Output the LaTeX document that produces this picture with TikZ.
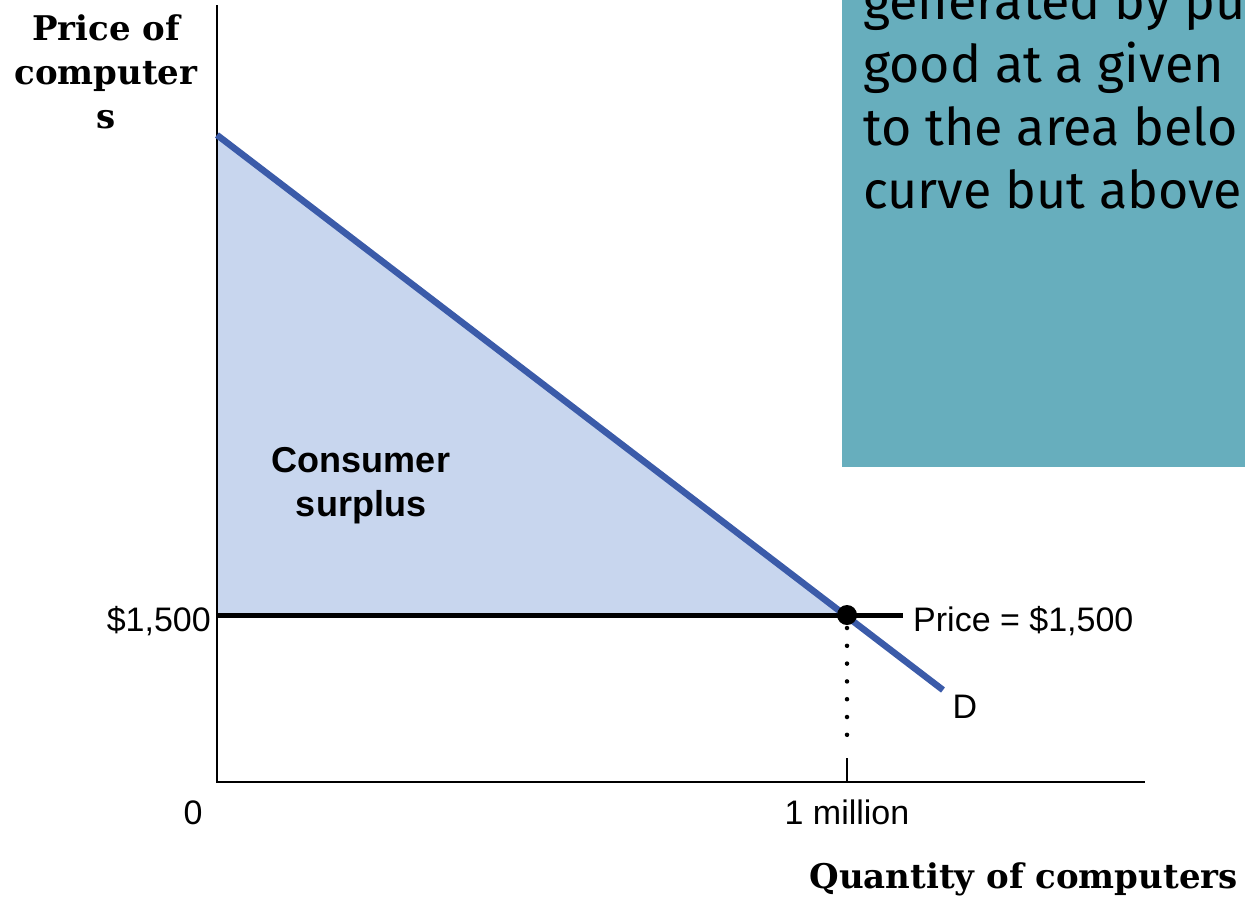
\documentclass[tikz,border=0pt]{standalone}
\usepackage{fontspec}
\setmainfont{Liberation Sans}
\newfontfamily\titlefont{DejaVu Serif}
\newfontfamily\notefont{Fira Sans}
\usetikzlibrary{positioning}
\definecolor{demandblue}{RGB}{59,91,169}
\definecolor{surplusblue}{RGB}{200,214,238}
\definecolor{noteteal}{RGB}{103,174,189}
\tikzset{
    axis/.style={
           draw=black,
           line width=2pt,
           },
    demand/.style={
           draw=demandblue,
           line width=6.5pt,
           },
    priceline/.style={
           draw=black,
           line width=5pt,
           },
    eqdot/.style={
           circle,
           fill=black,
           inner sep=0pt,
           minimum size=20pt,
           },
    droplne/.style={
           draw=black,
           line width=4.5pt,
           line cap=round,
           dash pattern=on 0pt off 17.8pt,
           shorten <=13pt,
           shorten >=13pt,
           },
    lbl/.style={
           font=\fontsize{34}{40}\selectfont,
           inner sep=0pt,
           },
    axistitle/.style={
           font=\titlefont\bfseries\fontsize{34}{44}\selectfont,
           inner sep=0pt,
           align=center,
           },
}

\begin{document}
\begin{tikzpicture}[x=1pt,y=-1pt]
\useasboundingbox (0,0) rectangle (1245,898);
% Key points of the graph
\coordinate (ORIGIN) at (217,782);
\coordinate (YTOP) at (217,5);
\coordinate (XEND) at (1145,782);
\coordinate (DTOP) at (217,135);
\coordinate (DEND) at (943,690);
\coordinate (PSTART) at (217,615);
\coordinate (PEND) at (903,615);
\coordinate (QTICK) at (847,758);
\coordinate (QAXIS) at (847,782);
% Consumer surplus triangle
\fill[surplusblue] (DTOP) -- (847,615) -- (PSTART) -- cycle;
% Axes
\draw[axis] (YTOP) -- (ORIGIN) -- (XEND);
\draw[axis] (QTICK) -- (QAXIS);
% Price line and demand curve
\draw[priceline] (PSTART) -- (PEND);
\draw[demand] (DTOP) -- (DEND);
% Equilibrium point (EQ)
\node[eqdot] (EQ) at (847,615) {};
\draw[droplne] (EQ.center) -- (QTICK);
% Labels
\node[lbl, anchor=base east] (P1500) at (211,631) {\$1,500};
\node[lbl, anchor=base west] (PRICE) at (913,631) {Price = \$1,500};
\node[lbl, anchor=base] (ZERO) at (193,824) {0};
\node[lbl, anchor=base] (QMILL) at (847,824) {1 million};
\node[lbl, anchor=base] (DLBL) at (965,718) {D};
\node[lbl, anchor=base, align=center,
font=\bfseries\fontsize{36}{44}\selectfont] (CS) at (361,516)
{Consumer\\surplus};
% Axis titles
\node[axistitle, anchor=base] (YTITLE) at (106,128) {Price of\\computer\\s};
\node[axistitle, anchor=base east] (XTITLE) at (1238,888) {Quantity of computers};
% Note box (NOTE), cut at the edge
\fill[noteteal] (842,0) rectangle (1245,467);
\begin{scope}
\clip (842,0) rectangle (1245,467);
\node[anchor=base west, inner sep=0pt, align=left,
font=\notefont\fontsize{52}{63}\selectfont] (NOTE) at (863,208)
{generated by pu\\good at a given\\to the area belo\\curve but above};
\end{scope}
\end{tikzpicture}
\end{document}
